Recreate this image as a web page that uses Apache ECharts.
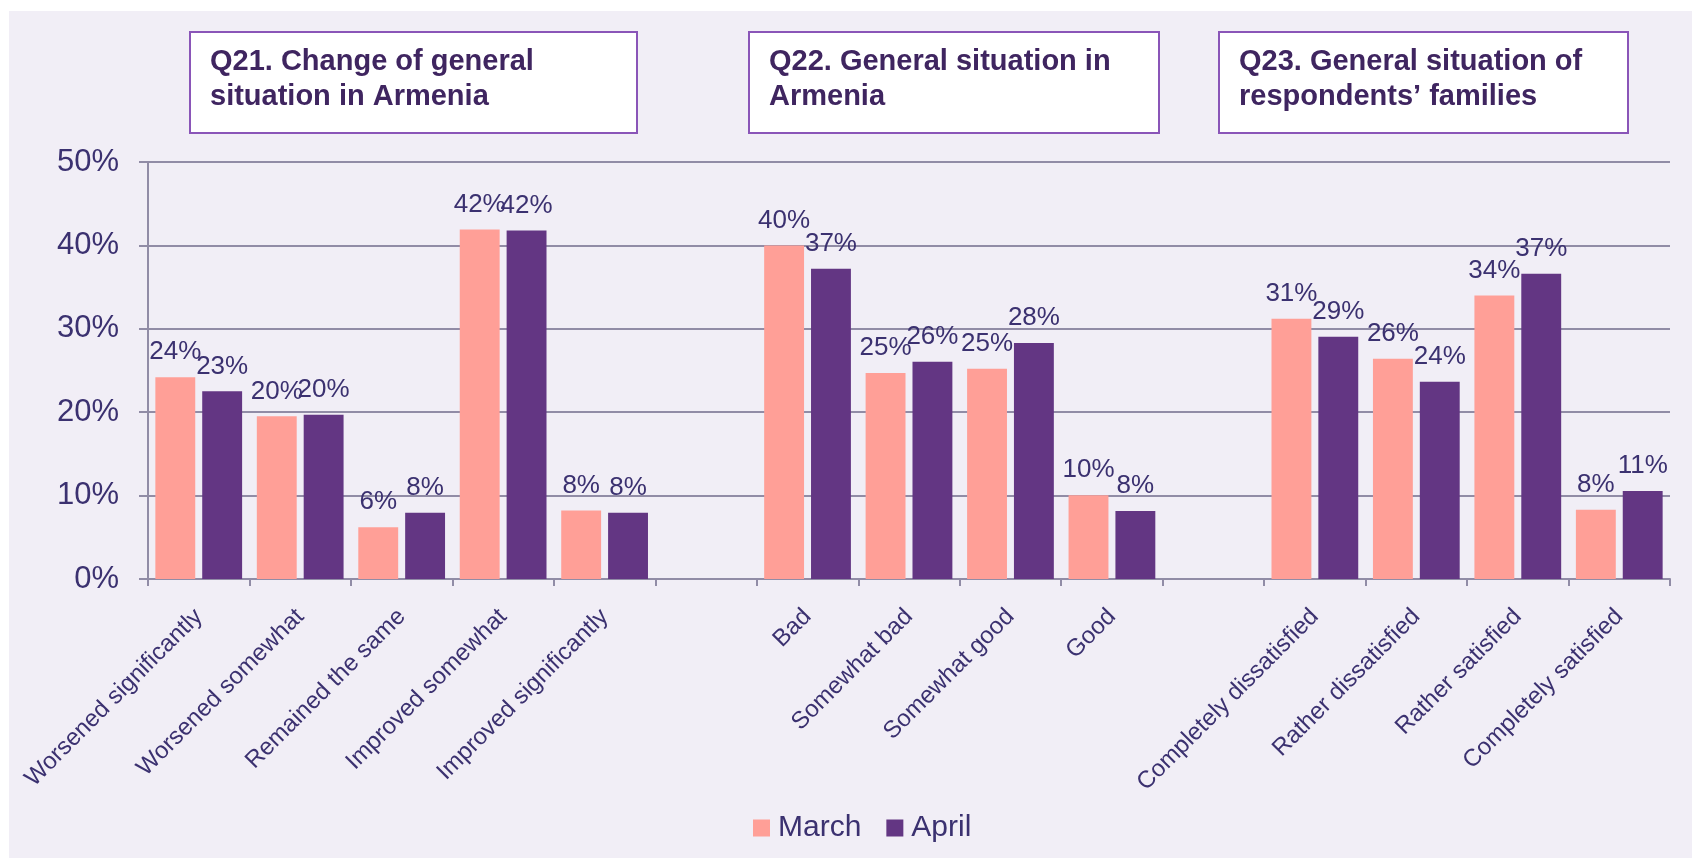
<!DOCTYPE html>
<html>
<head>
<meta charset="utf-8">
<script src="https://cdn.jsdelivr.net/npm/echarts@6/dist/echarts.min.js"></script>
<style>
html,body{margin:0;padding:0;background:#ffffff;}
#chart{width:1692px;height:858px;}
</style>
</head>
<body>
<div id="chart"></div>
<script>
// ---- Data ----
var q21Categories = ['Worsened significantly', 'Worsened somewhat', 'Remained the same', 'Improved somewhat', 'Improved significantly'];
var q22Categories = ['Bad', 'Somewhat bad', 'Somewhat good', 'Good'];
var q23Categories = ['Completely dissatisfied', 'Rather dissatisfied', 'Rather satisfied', 'Completely satisfied'];

var q21March = [24.2, 19.5, 6.2, 41.9, 8.2];
var q21April = [22.5, 19.7, 7.95, 41.8, 7.95];
var q22March = [40.0, 24.7, 25.2, 10.05];
var q22April = [37.2, 26.05, 28.3, 8.16];
var q23March = [31.2, 26.4, 34.0, 8.3];
var q23April = [29.05, 23.65, 36.6, 10.56];

var seriesNames = ['March', 'April'];
var yTicks = [0, 10, 20, 30, 40, 50];
var panelTitles = [
  'Q21. Change of general\nsituation in Armenia',
  'Q22. General situation in\nArmenia',
  'Q23. General situation of\nrespondents\u2019 families'
];

// ---- Build (blank category slots separate the three questions) ----
var categories = q21Categories.concat([''], q22Categories, [''], q23Categories);
var marchData = q21March.concat([null], q22March, [null], q23March);
var aprilData = q21April.concat([null], q22April, [null], q23April);

var FONT = "'Liberation Sans', Arial, sans-serif";
var TEXT = '#3b3170';
var GRIDC = '#918ca6';

var chart = echarts.init(document.getElementById('chart'), null, {renderer: 'canvas'});

var boxes = [
  {x: 190, w: 447},
  {x: 749, w: 410},
  {x: 1219, w: 409}
];
var graphics = [{
  type: 'rect', z: -10, silent: true,
  shape: {x: 9, y: 11, width: 1683, height: 847},
  style: {fill: '#f1eef6'}
}];
boxes.forEach(function (b, i) {
  graphics.push({
    type: 'rect', z: 10,
    shape: {x: b.x, y: 32, width: b.w, height: 101},
    style: {fill: '#ffffff', stroke: '#8a55b8', lineWidth: 2}
  });
  graphics.push({
    type: 'text', z: 11,
    x: b.x + 20, y: 44,
    style: {
      text: panelTitles[i],
      font: 'bold 29px ' + FONT,
      fill: '#3f2560',
      lineHeight: 35,
      verticalAlign: 'top'
    }
  });
});

function labelCfg() {
  return {
    show: true,
    position: 'top',
    distance: 12,
    fontFamily: FONT,
    fontSize: 26,
    color: TEXT,
    formatter: function (p) { return Math.round(p.value) + '%'; }
  };
}

var option = {
  backgroundColor: '#ffffff',
  animation: false,
  textStyle: {fontFamily: FONT},
  graphic: graphics,
  grid: {left: 148, right: 22, top: 162, bottom: 279, containLabel: false, outerBoundsMode: 'none'},
  legend: {
    data: seriesNames,
    left: 748, top: 808,
    icon: 'rect',
    itemWidth: 17, itemHeight: 17,
    itemGap: 25,
    textStyle: {fontFamily: FONT, fontSize: 30, color: TEXT, padding: [0, 0, 0, 3]}
  },
  xAxis: {
    type: 'category',
    data: categories,
    axisLine: {lineStyle: {color: GRIDC, width: 2}},
    axisTick: {show: true, length: 7, lineStyle: {color: GRIDC, width: 2}},
    axisLabel: {
      interval: 0, rotate: 45, margin: 34,
      fontFamily: FONT, fontSize: 24, color: TEXT
    }
  },
  yAxis: {
    type: 'value',
    min: yTicks[0], max: yTicks[yTicks.length - 1], interval: 10,
    axisLine: {show: true, lineStyle: {color: GRIDC, width: 2}},
    axisTick: {show: true, length: 9, lineStyle: {color: GRIDC, width: 2}},
    splitLine: {show: true, lineStyle: {color: GRIDC, width: 2}},
    axisLabel: {margin: 29, fontFamily: FONT, fontSize: 31, color: TEXT, formatter: '{value}%'}
  },
  series: [
    {
      name: seriesNames[0], type: 'bar', data: marchData,
      barGap: '17.5%', barCategoryGap: '14.5%',
      itemStyle: {color: '#ff9f97'},
      label: labelCfg()
    },
    {
      name: seriesNames[1], type: 'bar', data: aprilData,
      barGap: '17.5%', barCategoryGap: '14.5%',
      itemStyle: {color: '#633683'},
      label: labelCfg()
    }
  ]
};
chart.setOption(option);
</script>
</body>
</html>
